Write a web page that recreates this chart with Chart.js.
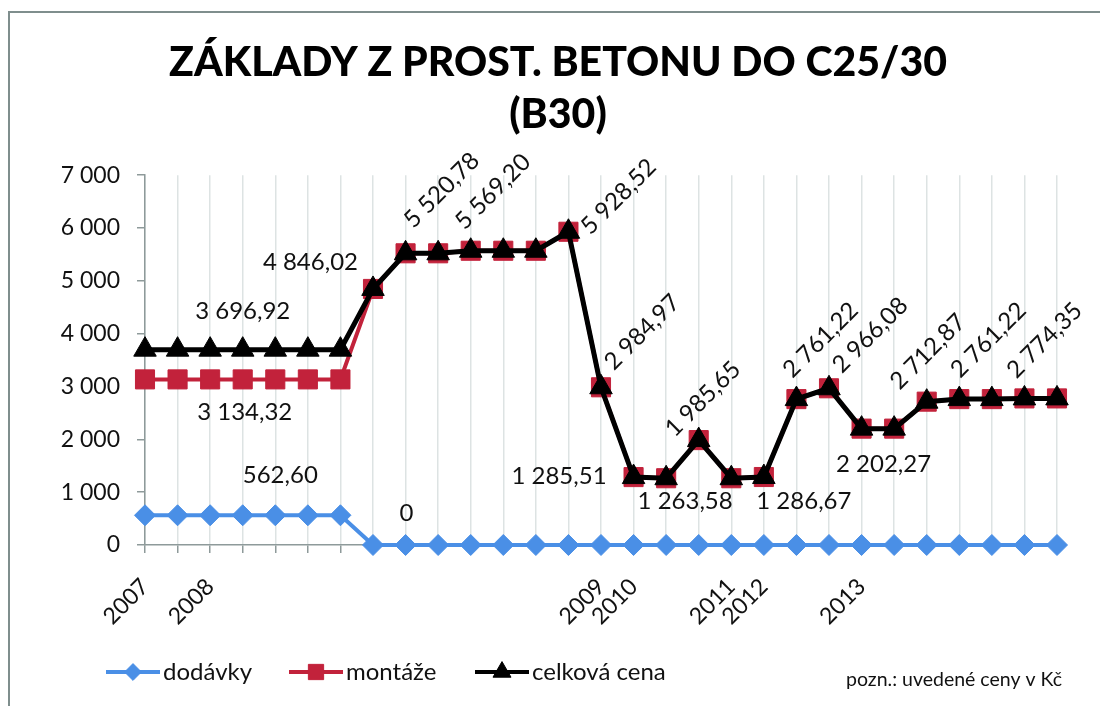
<!DOCTYPE html>
<html lang="cs">
<head>
<meta charset="utf-8">
<title>Základy z prost. betonu do C25/30 (B30)</title>
<script src="https://cdn.jsdelivr.net/npm/chart.js@4.4.1/dist/chart.umd.min.js"></script>
<style>
    html, body { margin: 0; padding: 0; background: #fff; overflow: hidden; }
    #wrap { position: relative; width: 1100px; height: 706px; }
    #wrap canvas { position: absolute; left: 0; top: 0; }
    /* only the top and left edge of the chart frame are inside the picture */
    #frame {
        position: absolute; left: 8px; top: 11px; width: 1200px; height: 800px;
        border-left: 2px solid #7f8e8d; border-top: 2px solid #7f8e8d;
        pointer-events: none;
    }
</style>
</head>
<body>
<div id="wrap">
    <canvas id="chart" width="1100" height="706"></canvas>
    <div id="frame"></div>
</div>
<script>
// x categories (only some of them carry a year label)
const periods = [
    '2007', '', '2008', '', '', '', '', '', '', '', '', '', '', '',
    '2009', '2010', '', '', '2011', '2012', '', '', '2013', '', '', '', '', '', ''
];

// prices in Kč
const dodavky = [
    562.60, 562.60, 562.60, 562.60, 562.60, 562.60, 562.60,
    0, 0, 0, 0, 0, 0, 0, 0, 0, 0, 0, 0, 0, 0, 0, 0, 0, 0, 0, 0, 0, 0
];
const montaze = [
    3134.32, 3134.32, 3134.32, 3134.32, 3134.32, 3134.32, 3134.32,
    4846.02, 5520.78, 5520.78, 5569.20, 5569.20, 5569.20, 5928.52,
    2984.97, 1285.51, 1263.58, 1985.65, 1263.58, 1286.67,
    2761.22, 2966.08, 2202.27, 2202.27, 2712.87, 2761.22, 2761.22, 2774.35, 2774.35
];
const celkovaCena = [
    3696.92, 3696.92, 3696.92, 3696.92, 3696.92, 3696.92, 3696.92,
    4846.02, 5520.78, 5520.78, 5569.20, 5569.20, 5569.20, 5928.52,
    2984.97, 1285.51, 1263.58, 1985.65, 1263.58, 1286.67,
    2761.22, 2966.08, 2202.27, 2202.27, 2712.87, 2761.22, 2761.22, 2774.35, 2774.35
];

const seriesNames = ['dodávky', 'montáže', 'celková cena'];
const yTicks = [0, 1000, 2000, 3000, 4000, 5000, 6000, 7000];
const note = 'pozn.: uvedené ceny v Kč';

const FONT = 'Lato, "Open Sans", sans-serif';
const TEXT = '#111';
const AXIS = '#8e9a9a';

// which points get a value label, and where it sits relative to the point
const valueLabels = [
    { ds: 2, i: 3,  dx: 0,   dy: -38, rot: 0,   align: 'center' },
    { ds: 1, i: 3,  dx: 2,   dy: 33,  rot: 0,   align: 'center' },
    { ds: 0, i: 4,  dx: 5,   dy: -40, rot: 0,   align: 'center' },
    { ds: 0, i: 8,  dx: 1,   dy: -32, rot: 0,   align: 'center' },
    { ds: 2, i: 7,  dx: -15, dy: -27, rot: 0,   align: 'right' },
    { ds: 2, i: 8,  dx: 8,   dy: -24, rot: -45, align: 'left' },
    { ds: 2, i: 10, dx: -6,  dy: -20, rot: -45, align: 'left' },
    { ds: 2, i: 13, dx: 22,  dy: 4,   rot: -45, align: 'left' },
    { ds: 2, i: 14, dx: 13,  dy: -16, rot: -45, align: 'left' },
    { ds: 2, i: 15, dx: -27, dy: -1,  rot: 0,   align: 'right' },
    { ds: 2, i: 16, dx: 19,  dy: 23,  rot: 0,   align: 'center' },
    { ds: 2, i: 17, dx: -24, dy: -2,  rot: -45, align: 'left' },
    { ds: 2, i: 19, dx: 40,  dy: 24,  rot: 0,   align: 'center' },
    { ds: 2, i: 20, dx: -4,  dy: -20, rot: -45, align: 'left' },
    { ds: 2, i: 21, dx: 13,  dy: -14, rot: -45, align: 'left' },
    { ds: 2, i: 22, dx: 22,  dy: 36,  rot: 0,   align: 'center' },
    { ds: 2, i: 24, dx: -27, dy: -11, rot: -45, align: 'left' },
    { ds: 2, i: 25, dx: 1,   dy: -20, rot: -45, align: 'left' },
    { ds: 2, i: 27, dx: -8,  dy: -19, rot: -45, align: 'left' }
];

// Czech number format: "3 696,92", "7 000", "0"
function czNum(v, decimals) {
    if (v === 0) return '0';
    const parts = v.toFixed(decimals).split('.');
    const grouped = parts[0].replace(/\B(?=(\d{3})+(?!\d))/g, ' ');
    return parts[1] ? grouped + ',' + parts[1] : grouped;
}

const valueLabelPlugin = {
    id: 'valueLabels',
    afterDatasetsDraw(chart) {
        const ctx = chart.ctx;
        ctx.save();
        ctx.fillStyle = TEXT;
        ctx.font = '24px ' + FONT;
        valueLabels.forEach(l => {
            const pt = chart.getDatasetMeta(l.ds).data[l.i];
            const text = czNum(chart.data.datasets[l.ds].data[l.i], 2);
            ctx.save();
            ctx.translate(pt.x + l.dx, pt.y + l.dy);
            if (l.rot) {
                ctx.rotate(l.rot * Math.PI / 180);
                ctx.textBaseline = 'alphabetic';
            } else {
                ctx.textBaseline = 'middle';
            }
            ctx.textAlign = l.align;
            ctx.fillText(text, 0, 0);
            ctx.restore();
        });
        ctx.restore();
    }
};

// legend with line + marker, plus the note in the bottom right corner
const legendPlugin = {
    id: 'lineLegend',
    afterDraw(chart) {
        const ctx = chart.ctx;
        const y = 672;
        const starts = [106, 289, 475];
        ctx.save();
        chart.data.datasets.forEach((ds, k) => {
            const x = starts[k];
            ctx.strokeStyle = ds.borderColor;
            ctx.lineWidth = 4;
            ctx.beginPath();
            ctx.moveTo(x, y);
            ctx.lineTo(x + 54, y);
            ctx.stroke();
            ctx.fillStyle = ds.pointBackgroundColor;
            ctx.strokeStyle = ds.pointBorderColor;
            ctx.lineWidth = 1;
            Chart.helpers.drawPoint(ctx, {
                pointStyle: ds.pointStyle,
                radius: ds.legendRadius,
                borderWidth: 1,
                rotation: 0
            }, x + 27, y);
            ctx.fillStyle = TEXT;
            ctx.font = '24px ' + FONT;
            ctx.textAlign = 'left';
            ctx.textBaseline = 'middle';
            ctx.fillText(ds.label, x + 57, y);
        });
        ctx.font = '19.5px ' + FONT;
        ctx.textAlign = 'right';
        ctx.textBaseline = 'middle';
        ctx.fillText(note, 1062, 680);
        ctx.restore();
    }
};

function series(label, data, color, style, radius, width, order) {
    return {
        label: label,
        data: data,
        borderColor: color,
        backgroundColor: color,
        borderWidth: width,
        pointStyle: style,
        pointRadius: radius,
        pointBackgroundColor: color,
        pointBorderColor: color,
        pointBorderWidth: 1,
        legendRadius: radius * 0.8,
        tension: 0,
        clip: false,
        order: order
    };
}

new Chart(document.getElementById('chart'), {
    type: 'line',
    data: {
        labels: periods,
        datasets: [
            series(seriesNames[0], dodavky, '#4a8fe6', 'rectRot', 10.5, 4, 2),
            series(seriesNames[1], montaze, '#c2223b', 'rect', 13.5, 4, 1),
            series(seriesNames[2], celkovaCena, '#000000', 'triangle', 13, 5, 0)
        ]
    },
    options: {
        responsive: false,
        animation: false,
        layout: {
            padding: { left: 59, right: 43, top: 0, bottom: 0 }
        },
        plugins: {
            legend: { display: false },
            tooltip: { enabled: false },
            title: {
                display: true,
                text: ['ZÁKLADY Z PROST. BETONU DO C25/30', '(B30)'],
                color: '#000',
                font: { family: FONT, size: 41, weight: '900', lineHeight: 1.27 },
                padding: { top: 37, bottom: 34 }
            }
        },
        scales: {
            x: {
                offset: false,
                afterFit: (scale) => { scale.height = 161; },
                border: { display: true, color: AXIS, width: 1.5 },
                grid: {
                    color: '#dde3e3',
                    lineWidth: 1.5,
                    drawTicks: true,
                    tickLength: 8,
                    tickColor: AXIS
                },
                ticks: {
                    autoSkip: false,
                    maxRotation: 45,
                    minRotation: 45,
                    padding: 20,
                    color: TEXT,
                    font: { family: FONT, size: 23 }
                }
            },
            y: {
                min: 0,
                max: 7000,
                afterFit: (scale) => { scale.width = 86; },
                afterBuildTicks: (scale) => {
                    scale.ticks = yTicks.map(v => ({ value: v }));
                },
                border: { display: true, color: AXIS, width: 1.5 },
                grid: {
                    drawOnChartArea: false,
                    drawTicks: true,
                    tickLength: 8,
                    tickColor: AXIS,
                    lineWidth: 1.5
                },
                ticks: {
                    padding: 17,
                    color: TEXT,
                    font: { family: FONT, size: 23 },
                    callback: (value) => czNum(value, 0)
                }
            }
        }
    },
    plugins: [valueLabelPlugin, legendPlugin]
});
</script>
</body>
</html>
